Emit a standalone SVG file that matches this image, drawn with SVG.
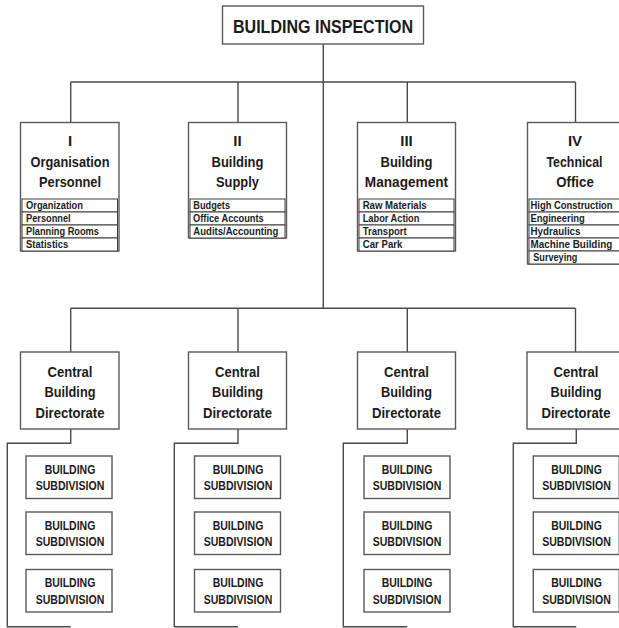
<svg xmlns="http://www.w3.org/2000/svg" width="619" height="628" viewBox="0 0 619 628">
  <style>
    .box { fill: #ffffff; stroke: #5a5a5a; stroke-width: 1.4; }
    .row { fill: #ffffff; stroke: #3c3c3c; stroke-width: 1; }
    .wire { fill: none; stroke: #4a4a4a; stroke-width: 1.4; }
    text { font-family: "Liberation Sans", Arial, sans-serif; font-weight: bold; fill: #1c1c1c; }
    .title { font-size: 18.5px; text-anchor: middle; }
    .head { font-size: 15px; text-anchor: middle; }
    .item { font-size: 10.5px; text-anchor: start; }
    .dir { font-size: 15.5px; text-anchor: middle; }
    .sub { font-size: 12.5px; text-anchor: middle; }
  </style>
  <rect width="619" height="628" fill="#ffffff"/>

  <!-- connectors -->
  <g id="connectors">
    <line class="wire" x1="323.3" y1="44" x2="323.3" y2="308.3"/>
    <line class="wire" x1="70.7" y1="82" x2="575.5" y2="82"/>
    <line class="wire" x1="70.7" y1="82" x2="70.7" y2="122.5"/>
    <line class="wire" x1="238" y1="82" x2="238" y2="122.5"/>
    <line class="wire" x1="407.3" y1="82" x2="407.3" y2="122.5"/>
    <line class="wire" x1="575.5" y1="82" x2="575.5" y2="122.5"/>
    <line class="wire" x1="70.7" y1="308.3" x2="575.5" y2="308.3"/>
    <line class="wire" x1="70.7" y1="308.3" x2="70.7" y2="352"/>
    <line class="wire" x1="238" y1="308.3" x2="238" y2="352"/>
    <line class="wire" x1="407.3" y1="308.3" x2="407.3" y2="352"/>
    <line class="wire" x1="575.5" y1="308.3" x2="575.5" y2="352"/>
    <!-- brackets below each directorate -->
    <polyline class="wire" points="70.7,429 70.7,443.3 7.3,443.3 7.3,626.7 70.7,626.7"/>
    <polyline class="wire" points="238,429 238,443.3 174.3,443.3 174.3,626.7 238,626.7"/>
    <polyline class="wire" points="407.3,429 407.3,443.3 343.3,443.3 343.3,626.7 407.3,626.7"/>
    <polyline class="wire" points="576.3,429 576.3,443.3 513.3,443.3 513.3,626.7 576.3,626.7"/>
  </g>

  <!-- top node -->
  <g id="building-inspection">
    <rect class="box" x="222.5" y="6" width="201" height="38"/>
    <text class="title" x="323" y="33.3" textLength="180" lengthAdjust="spacingAndGlyphs">BUILDING INSPECTION</text>
  </g>

  <!-- department I -->
  <g id="dept-1">
    <rect class="box" x="20.5" y="122.5" width="98.5" height="128.5"/>
    <text class="head" x="70" y="146">I</text>
    <text class="head" x="70" y="166.5" textLength="79" lengthAdjust="spacingAndGlyphs">Organisation</text>
    <text class="head" x="70" y="187" textLength="62" lengthAdjust="spacingAndGlyphs">Personnel</text>
    <rect class="row" x="22" y="199" width="95.5" height="13"/>
    <rect class="row" x="22" y="212" width="95.5" height="13"/>
    <rect class="row" x="22" y="225" width="95.5" height="13"/>
    <rect class="row" x="22" y="238" width="95.5" height="13"/>
    <text class="item" x="26" y="209" textLength="57" lengthAdjust="spacingAndGlyphs">Organization</text>
    <text class="item" x="26" y="222" textLength="44.7" lengthAdjust="spacingAndGlyphs">Personnel</text>
    <text class="item" x="26" y="235" textLength="73" lengthAdjust="spacingAndGlyphs">Planning Rooms</text>
    <text class="item" x="26" y="248" textLength="42.3" lengthAdjust="spacingAndGlyphs">Statistics</text>
  </g>

  <!-- department II -->
  <g id="dept-2">
    <rect class="box" x="188.5" y="122.5" width="98" height="115.5"/>
    <text class="head" x="237.5" y="146">II</text>
    <text class="head" x="237.5" y="166.5" textLength="52" lengthAdjust="spacingAndGlyphs">Building</text>
    <text class="head" x="237.5" y="187" textLength="43" lengthAdjust="spacingAndGlyphs">Supply</text>
    <rect class="row" x="190" y="199" width="95" height="13"/>
    <rect class="row" x="190" y="212" width="95" height="13"/>
    <rect class="row" x="190" y="225" width="95" height="13"/>
    <text class="item" x="193.3" y="209" textLength="36.7" lengthAdjust="spacingAndGlyphs">Budgets</text>
    <text class="item" x="193" y="222" textLength="70.7" lengthAdjust="spacingAndGlyphs">Office Accounts</text>
    <text class="item" x="193.3" y="235" textLength="85" lengthAdjust="spacingAndGlyphs">Audits/Accounting</text>
  </g>

  <!-- department III -->
  <g id="dept-3">
    <rect class="box" x="357.5" y="122.5" width="98" height="128.5"/>
    <text class="head" x="406.5" y="146">III</text>
    <text class="head" x="406.5" y="166.5" textLength="52" lengthAdjust="spacingAndGlyphs">Building</text>
    <text class="head" x="406.5" y="187" textLength="83.3" lengthAdjust="spacingAndGlyphs">Management</text>
    <rect class="row" x="359" y="199" width="95" height="13"/>
    <rect class="row" x="359" y="212" width="95" height="13"/>
    <rect class="row" x="359" y="225" width="95" height="13"/>
    <rect class="row" x="359" y="238" width="95" height="13"/>
    <text class="item" x="362.7" y="209" textLength="64" lengthAdjust="spacingAndGlyphs">Raw Materials</text>
    <text class="item" x="362.7" y="222" textLength="56.7" lengthAdjust="spacingAndGlyphs">Labor Action</text>
    <text class="item" x="362.7" y="235" textLength="44" lengthAdjust="spacingAndGlyphs">Transport</text>
    <text class="item" x="362.7" y="248" textLength="39.7" lengthAdjust="spacingAndGlyphs">Car Park</text>
  </g>

  <!-- department IV -->
  <g id="dept-4">
    <rect class="box" x="527.5" y="122.5" width="98" height="141.5"/>
    <text class="head" x="575" y="146">IV</text>
    <text class="head" x="574.5" y="166.5" textLength="56" lengthAdjust="spacingAndGlyphs">Technical</text>
    <text class="head" x="575" y="187" textLength="37.5" lengthAdjust="spacingAndGlyphs">Office</text>
    <rect class="row" x="529" y="199" width="95" height="13"/>
    <rect class="row" x="529" y="212" width="95" height="13"/>
    <rect class="row" x="529" y="225" width="95" height="13"/>
    <rect class="row" x="529" y="238" width="95" height="13"/>
    <rect class="row" x="529" y="251" width="95" height="13"/>
    <text class="item" x="530.5" y="209" textLength="82" lengthAdjust="spacingAndGlyphs">High Construction</text>
    <text class="item" x="530.5" y="222" textLength="54.3" lengthAdjust="spacingAndGlyphs">Engineering</text>
    <text class="item" x="530.5" y="235" textLength="50" lengthAdjust="spacingAndGlyphs">Hydraulics</text>
    <text class="item" x="530.5" y="248" textLength="81.7" lengthAdjust="spacingAndGlyphs">Machine Building</text>
    <text class="item" x="533.3" y="261" textLength="44" lengthAdjust="spacingAndGlyphs">Surveying</text>
  </g>

  <!-- directorates -->
  <g id="directorate-1">
    <rect class="box" x="20.5" y="352" width="98.5" height="77"/>
    <text class="dir" x="70" y="377.3" textLength="45" lengthAdjust="spacingAndGlyphs">Central</text>
    <text class="dir" x="70" y="397.3" textLength="51" lengthAdjust="spacingAndGlyphs">Building</text>
    <text class="dir" x="70" y="418.3" textLength="69" lengthAdjust="spacingAndGlyphs">Directorate</text>
  </g>
  <g id="directorate-2">
    <rect class="box" x="188.5" y="352" width="98" height="77"/>
    <text class="dir" x="237.5" y="377.3" textLength="45" lengthAdjust="spacingAndGlyphs">Central</text>
    <text class="dir" x="237.5" y="397.3" textLength="51" lengthAdjust="spacingAndGlyphs">Building</text>
    <text class="dir" x="237.5" y="418.3" textLength="69" lengthAdjust="spacingAndGlyphs">Directorate</text>
  </g>
  <g id="directorate-3">
    <rect class="box" x="357.5" y="352" width="98" height="77"/>
    <text class="dir" x="406.5" y="377.3" textLength="45" lengthAdjust="spacingAndGlyphs">Central</text>
    <text class="dir" x="406.5" y="397.3" textLength="51" lengthAdjust="spacingAndGlyphs">Building</text>
    <text class="dir" x="406.5" y="418.3" textLength="69" lengthAdjust="spacingAndGlyphs">Directorate</text>
  </g>
  <g id="directorate-4">
    <rect class="box" x="527" y="352" width="98" height="77"/>
    <text class="dir" x="576" y="377.3" textLength="45" lengthAdjust="spacingAndGlyphs">Central</text>
    <text class="dir" x="576" y="397.3" textLength="51" lengthAdjust="spacingAndGlyphs">Building</text>
    <text class="dir" x="576" y="418.3" textLength="69" lengthAdjust="spacingAndGlyphs">Directorate</text>
  </g>

  <!-- subdivisions, column 1 -->
  <g id="subdivision-1-1">
    <rect class="box" x="26" y="456" width="86" height="42.5"/>
    <text class="sub" x="70" y="473.5" textLength="50.7" lengthAdjust="spacingAndGlyphs">BUILDING</text>
    <text class="sub" x="70" y="490" textLength="68.6" lengthAdjust="spacingAndGlyphs">SUBDIVISION</text>
  </g>
  <g id="subdivision-1-2">
    <rect class="box" x="26" y="512" width="86" height="42.5"/>
    <text class="sub" x="70" y="529.5" textLength="50.7" lengthAdjust="spacingAndGlyphs">BUILDING</text>
    <text class="sub" x="70" y="546" textLength="68.6" lengthAdjust="spacingAndGlyphs">SUBDIVISION</text>
  </g>
  <g id="subdivision-1-3">
    <rect class="box" x="26" y="569.5" width="86" height="42.5"/>
    <text class="sub" x="70" y="587" textLength="50.7" lengthAdjust="spacingAndGlyphs">BUILDING</text>
    <text class="sub" x="70" y="603.5" textLength="68.6" lengthAdjust="spacingAndGlyphs">SUBDIVISION</text>
  </g>

  <!-- subdivisions, column 2 -->
  <g id="subdivision-2-1">
    <rect class="box" x="194.5" y="456" width="86" height="42.5"/>
    <text class="sub" x="238" y="473.5" textLength="50.7" lengthAdjust="spacingAndGlyphs">BUILDING</text>
    <text class="sub" x="238" y="490" textLength="68.6" lengthAdjust="spacingAndGlyphs">SUBDIVISION</text>
  </g>
  <g id="subdivision-2-2">
    <rect class="box" x="194.5" y="512" width="86" height="42.5"/>
    <text class="sub" x="238" y="529.5" textLength="50.7" lengthAdjust="spacingAndGlyphs">BUILDING</text>
    <text class="sub" x="238" y="546" textLength="68.6" lengthAdjust="spacingAndGlyphs">SUBDIVISION</text>
  </g>
  <g id="subdivision-2-3">
    <rect class="box" x="194.5" y="569.5" width="86" height="42.5"/>
    <text class="sub" x="238" y="587" textLength="50.7" lengthAdjust="spacingAndGlyphs">BUILDING</text>
    <text class="sub" x="238" y="603.5" textLength="68.6" lengthAdjust="spacingAndGlyphs">SUBDIVISION</text>
  </g>

  <!-- subdivisions, column 3 -->
  <g id="subdivision-3-1">
    <rect class="box" x="364" y="456" width="86" height="42.5"/>
    <text class="sub" x="407" y="473.5" textLength="50.7" lengthAdjust="spacingAndGlyphs">BUILDING</text>
    <text class="sub" x="407" y="490" textLength="68.6" lengthAdjust="spacingAndGlyphs">SUBDIVISION</text>
  </g>
  <g id="subdivision-3-2">
    <rect class="box" x="364" y="512" width="86" height="42.5"/>
    <text class="sub" x="407" y="529.5" textLength="50.7" lengthAdjust="spacingAndGlyphs">BUILDING</text>
    <text class="sub" x="407" y="546" textLength="68.6" lengthAdjust="spacingAndGlyphs">SUBDIVISION</text>
  </g>
  <g id="subdivision-3-3">
    <rect class="box" x="364" y="569.5" width="86" height="42.5"/>
    <text class="sub" x="407" y="587" textLength="50.7" lengthAdjust="spacingAndGlyphs">BUILDING</text>
    <text class="sub" x="407" y="603.5" textLength="68.6" lengthAdjust="spacingAndGlyphs">SUBDIVISION</text>
  </g>

  <!-- subdivisions, column 4 -->
  <g id="subdivision-4-1">
    <rect class="box" x="533.3" y="456" width="86" height="42.5"/>
    <text class="sub" x="576.5" y="473.5" textLength="50.7" lengthAdjust="spacingAndGlyphs">BUILDING</text>
    <text class="sub" x="576.5" y="490" textLength="68.6" lengthAdjust="spacingAndGlyphs">SUBDIVISION</text>
  </g>
  <g id="subdivision-4-2">
    <rect class="box" x="533.3" y="512" width="86" height="42.5"/>
    <text class="sub" x="576.5" y="529.5" textLength="50.7" lengthAdjust="spacingAndGlyphs">BUILDING</text>
    <text class="sub" x="576.5" y="546" textLength="68.6" lengthAdjust="spacingAndGlyphs">SUBDIVISION</text>
  </g>
  <g id="subdivision-4-3">
    <rect class="box" x="533.3" y="569.5" width="86" height="42.5"/>
    <text class="sub" x="576.5" y="587" textLength="50.7" lengthAdjust="spacingAndGlyphs">BUILDING</text>
    <text class="sub" x="576.5" y="603.5" textLength="68.6" lengthAdjust="spacingAndGlyphs">SUBDIVISION</text>
  </g>
</svg>
